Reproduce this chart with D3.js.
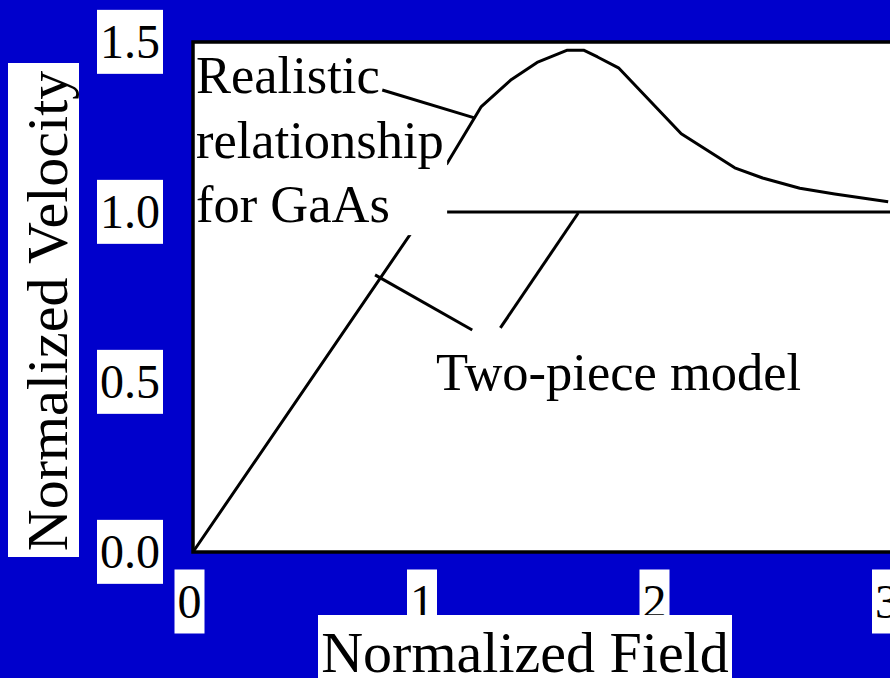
<!DOCTYPE html>
<html>
<head>
<meta charset="utf-8">
<script src="https://cdn.jsdelivr.net/npm/d3@7"></script>
<style>
  html, body { margin: 0; padding: 0; background: #0000cc; }
  text { font-family: "Liberation Serif", "Times New Roman", serif; }
</style>
</head>
<body>
<div id="chart"></div>
<script>
// realistic GaAs velocity-field curve (visible part), normalized units
var realField = [1.09, 1.24, 1.37, 1.48, 1.61, 1.68, 1.74, 1.83, 2.10, 2.33, 2.45, 2.61, 2.76, 2.99];
var realVel   = [1.14, 1.31, 1.39, 1.44, 1.476, 1.476, 1.456, 1.424, 1.23, 1.13, 1.10, 1.07, 1.053, 1.03];

// two-piece model: linear up to field 1, then saturated
var twoField = [0, 1, 3.1];
var twoVel   = [0, 1, 1];

var xTicks = [0, 1, 2, 3];
var yTicks = [0, 0.5, 1.0, 1.5];

var width = 890, height = 678;
var bg = "#0000cc";

var svg = d3.select("#chart")
    .append("svg")
    .attr("width", width)
    .attr("height", height);

svg.append("rect")
    .attr("width", width)
    .attr("height", height)
    .attr("fill", bg);

const x = d3.scaleLinear()
    .domain([0, 3])
    .range([193, 890.5]);

const y = d3.scaleLinear()
    .domain([0, 1.5])
    .range([552, 42]);

// plot area
svg.append("rect")
    .attr("x", x(0))
    .attr("y", y(1.5))
    .attr("width", x(3.2) - x(0))
    .attr("height", y(0) - y(1.5))
    .attr("fill", "white")
    .attr("stroke", "black")
    .attr("stroke-width", 3.5);

var line = d3.line()
    .x(function(d) { return x(d[0]); })
    .y(function(d) { return y(d[1]); });

// two-piece model
svg.append("path")
    .attr("d", line(d3.zip(twoField, twoVel)))
    .attr("fill", "none")
    .attr("stroke", "black")
    .attr("stroke-width", 3)
    .attr("stroke-linejoin", "round");

// realistic relationship
svg.append("path")
    .attr("d", line(d3.zip(realField, realVel)))
    .attr("fill", "none")
    .attr("stroke", "black")
    .attr("stroke-width", 3)
    .attr("stroke-linejoin", "round");

// white text box behind the "Realistic relationship" label
svg.append("rect")
    .attr("x", x(0) + 2)
    .attr("y", y(1.5) + 2)
    .attr("width", x(1.093) - x(0) - 2)
    .attr("height", y(0.932) - y(1.5) - 2)
    .attr("fill", "white");

var labelLines = ["Realistic", "relationship", "for GaAs"];
svg.append("g").selectAll("text")
    .data(labelLines)
    .enter()
    .append("text")
    .attr("x", 196)
    .attr("y", function(d, i) { return 93 + i * 64.5; })
    .attr("font-size", 52.5)
    .attr("fill", "black")
    .text(function(d) { return d; });

svg.append("text")
    .attr("x", 436)
    .attr("y", 390)
    .attr("font-size", 52.5)
    .attr("fill", "black")
    .text("Two-piece model");

// leader lines, in data units
var leaders = [
    [[0.814, 1.359], [1.214, 1.276]],
    [[0.783, 0.815], [1.201, 0.653]],
    [[1.657, 0.997], [1.322, 0.659]]
];
svg.append("g").selectAll("path")
    .data(leaders)
    .enter()
    .append("path")
    .attr("d", function(d) { return line(d); })
    .attr("stroke", "black")
    .attr("stroke-width", 3)
    .attr("fill", "none");

// y axis tick labels
var yAxis = svg.append("g")
    .attr("transform", "translate(" + x(0) + ",0)")
    .call(d3.axisLeft(y).tickValues(yTicks).tickFormat(d3.format(".1f")).tickSize(0).tickPadding(33));
yAxis.select(".domain").remove();
yAxis.selectAll("text")
    .attr("font-size", 48)
    .attr("font-family", "Liberation Serif, Times New Roman, serif")
    .attr("fill", "black")
    .attr("dy", "0.33em");

// x axis tick labels
var xAxis = svg.append("g")
    .attr("transform", "translate(-4," + y(0) + ")")
    .call(d3.axisBottom(x).tickValues(xTicks).tickFormat(d3.format("d")).tickSize(0).tickPadding(0));
xAxis.select(".domain").remove();
xAxis.selectAll("text")
    .attr("font-size", 48)
    .attr("font-family", "Liberation Serif, Times New Roman, serif")
    .attr("fill", "black")
    .attr("y", 66)
    .attr("dy", 0);

// white boxes behind tick labels
[yAxis, xAxis].forEach(function(ax) {
    ax.selectAll(".tick").each(function() {
        var t = d3.select(this).select("text");
        var b = t.node().getBBox();
        d3.select(this).insert("rect", "text")
            .attr("x", b.x - 3)
            .attr("y", b.y + b.height / 2 - 32)
            .attr("width", b.width + 6)
            .attr("height", 64)
            .attr("fill", "white");
    });
});

// axis titles
var yTitle = svg.append("text")
    .attr("transform", "translate(67,311) rotate(-90)")
    .attr("text-anchor", "middle")
    .attr("font-size", 58)
    .attr("fill", "black")
    .text("Normalized Velocity");

var xTitle = svg.append("text")
    .attr("x", 525)
    .attr("y", 672)
    .attr("text-anchor", "middle")
    .attr("font-size", 58)
    .attr("fill", "black")
    .text("Normalized Field");

// white title boxes
svg.insert("rect", function() { return yTitle.node(); })
    .attr("x", 8)
    .attr("y", 63)
    .attr("width", 71)
    .attr("height", 494)
    .attr("fill", "white");

svg.insert("rect", function() { return xTitle.node(); })
    .attr("x", 318)
    .attr("y", 615)
    .attr("width", 414)
    .attr("height", 70)
    .attr("fill", "white");
</script>
</body>
</html>
